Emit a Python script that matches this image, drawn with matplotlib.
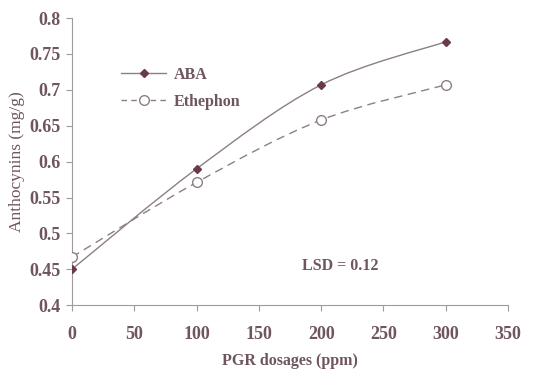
import numpy as np
import matplotlib
matplotlib.use("Agg")
import matplotlib.pyplot as plt
from matplotlib.path import Path
from matplotlib.patches import PathPatch
from matplotlib.lines import Line2D

dosages = [0, 100, 200, 300]
aba = [0.45, 0.59, 0.707, 0.767]
ethephon = [0.467, 0.571, 0.658, 0.707]
xticks = [0, 50, 100, 150, 200, 250, 300, 350]
yticks = [0.4, 0.45, 0.5, 0.55, 0.6, 0.65, 0.7, 0.75, 0.8]

TXT = "#6e5560"
LINE = "#8c7f85"
MARK = "#6a3a4c"

plt.rcParams['font.family'] = ['Liberation Serif', 'DejaVu Serif']


def smooth_path(xs, ys):
    # Excel-style smoothed line: Catmull-Rom segments as cubic Beziers
    pts = np.column_stack([xs, ys]).astype(float)
    verts = [pts[0]]
    codes = [Path.MOVETO]
    n = len(pts)
    for i in range(n - 1):
        p0 = pts[i - 1] if i > 0 else pts[i]
        p1, p2 = pts[i], pts[i + 1]
        p3 = pts[i + 2] if i + 2 < n else pts[i + 1]
        c1 = p1 + (p2 - p0) / 6
        c2 = p2 - (p3 - p1) / 6
        verts += [c1, c2, p2]
        codes += [Path.CURVE4] * 3
    return Path(verts, codes)


fig = plt.figure(figsize=(5.37, 3.69), dpi=100)
ax = fig.add_axes([0.134, 0.173, 0.812, 0.778])

ax.add_patch(PathPatch(smooth_path(dosages, aba), fill=False,
                       edgecolor=LINE, lw=1.0))
ax.add_patch(PathPatch(smooth_path(dosages, ethephon), fill=False,
                       edgecolor=LINE, lw=1.0, linestyle=(0, (6, 4))))
ax.plot(dosages, aba, linestyle='none', marker='D', ms=4.5,
        color=MARK, zorder=3)
ax.plot(dosages, ethephon, linestyle='none', marker='o', ms=7,
        markerfacecolor='white', markeredgecolor=LINE, mew=1.0, zorder=3)

ax.set_xlim(0, 350)
ax.set_ylim(0.4, 0.8)
ax.set_xticks(xticks)
ax.set_yticks(yticks)
ax.set_xticklabels([str(t) for t in xticks], fontweight='bold')
ax.set_yticklabels([f"{t:g}" for t in yticks], fontweight='bold')
for s in ['top', 'right']:
    ax.spines[s].set_visible(False)
for s in ['left', 'bottom']:
    ax.spines[s].set_color("#a09aa0")
    ax.spines[s].set_linewidth(0.8)
ax.tick_params(colors="#a09aa0", labelcolor=TXT, labelsize=13, length=4,
               width=0.8, pad=11)
ax.tick_params(axis='y', pad=4)

ax.set_xlabel("PGR dosages (ppm)", fontsize=11.5, fontweight='bold',
              color=TXT, labelpad=7)
ax.set_ylabel("Anthocynins (mg/g)", fontsize=12.5, color=TXT, labelpad=3)

handles = [
    Line2D([], [], color=LINE, lw=1.0, marker='D', ms=4.5,
           markerfacecolor=MARK, markeredgecolor=MARK),
    Line2D([], [], color=LINE, lw=1.0, linestyle=(0, (4, 3)), marker='o',
           ms=7, markerfacecolor='white', markeredgecolor=LINE),
]
leg = ax.legend(handles, ["ABA", "Ethephon"], loc='upper left',
                bbox_to_anchor=(0.08, 0.88), frameon=False, fontsize=11.5,
                handlelength=2.8, labelspacing=0.7, handletextpad=0.5)
for t in leg.get_texts():
    t.set_color(TXT)
    t.set_fontweight('bold')

ax.text(215, 0.455, "LSD = 0.12", ha='center', va='center', fontsize=11.5,
        fontweight='bold', color=TXT)

fig.savefig("out.png", dpi=100)
